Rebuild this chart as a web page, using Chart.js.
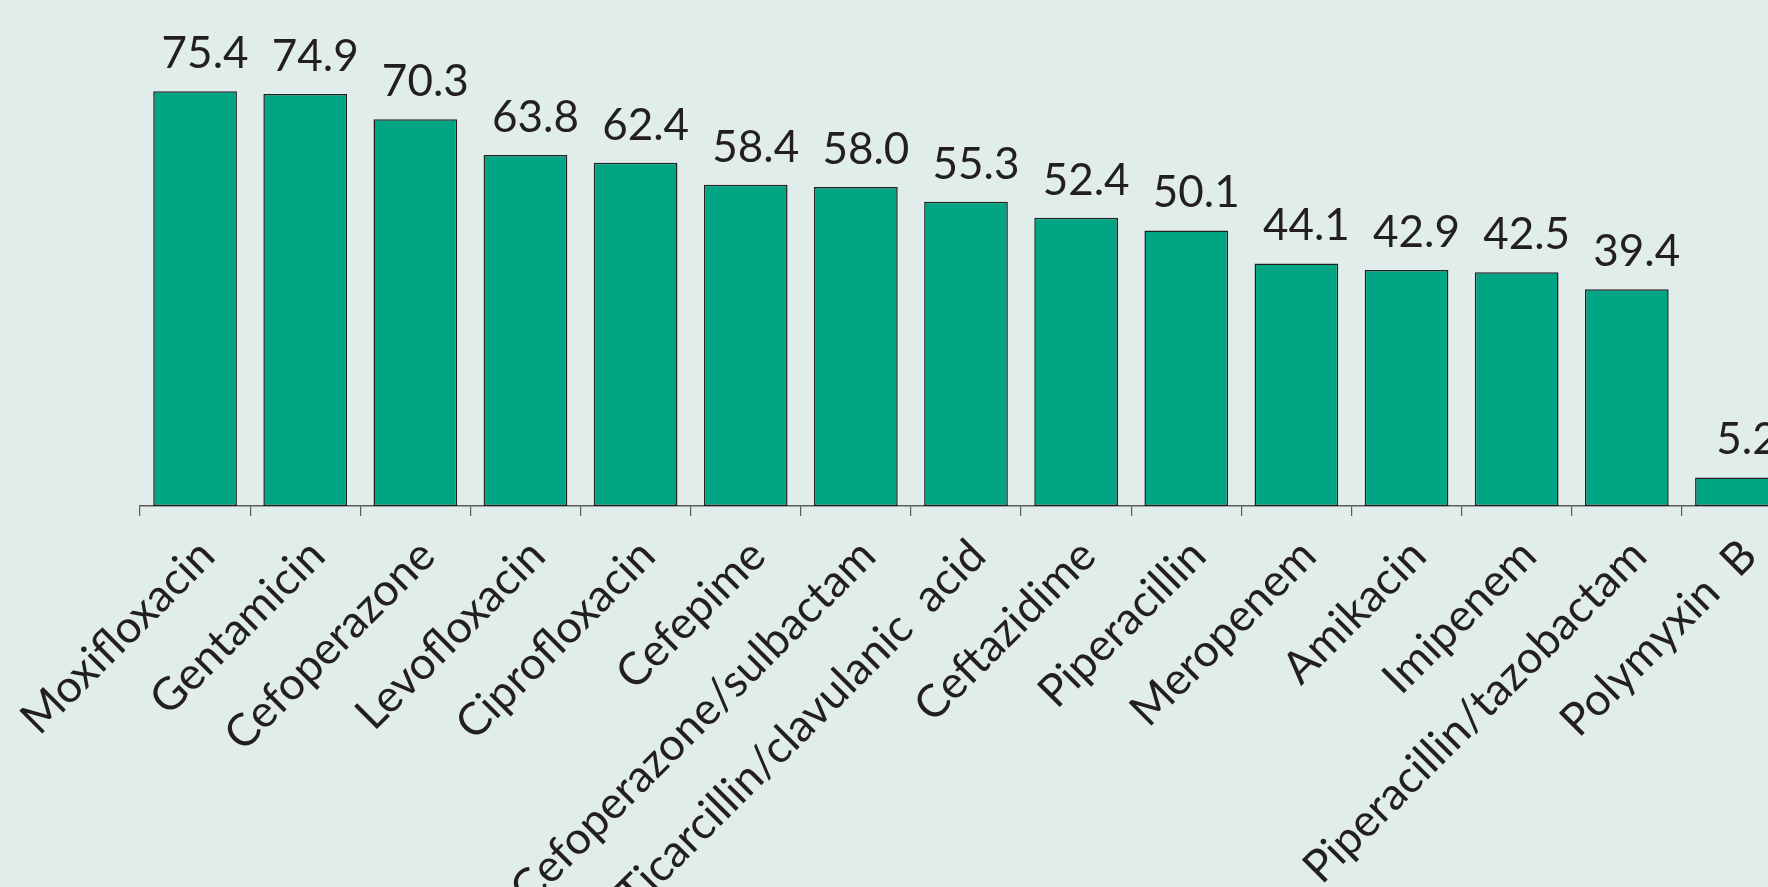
<!DOCTYPE html>
<html>
<head>
<meta charset="utf-8">
<script src="https://cdn.jsdelivr.net/npm/chart.js@4.4.1/dist/chart.umd.min.js"></script>
<style>
  html, body { margin: 0; padding: 0; background: #e1edea; overflow: hidden; width: 1768px; height: 887px; }
  #wrap { position: relative; width: 1792px; height: 887px; }
  canvas { display: block; }
</style>
</head>
<body>
<div id="wrap"><canvas id="chart" width="1792" height="887"></canvas></div>
<script>
// Antibiotic susceptibility (%)
const categories = [
  'Moxifloxacin', 'Gentamicin', 'Cefoperazone', 'Levofloxacin', 'Ciprofloxacin',
  'Cefepime', 'Cefoperazone/sulbactam', 'Ticarcillin/clavulanic  acid', 'Ceftazidime',
  'Piperacillin', 'Meropenem', 'Amikacin', 'Imipenem', 'Piperacillin/tazobactam', 'Polymyxin  B'
];
const susceptibility = [75.4, 74.9, 70.3, 63.8, 62.4, 58.4, 58.0, 55.3, 52.4, 50.1, 44.1, 42.9, 42.5, 39.4, 5.2];
const valueLabels = susceptibility.map(v => v.toFixed(1));

const FONT = 'Lato, "Open Sans", sans-serif';
const INK = '#231f20';

// Value printed above each bar
const barValues = {
  id: 'barValues',
  afterDatasetsDraw(chart) {
    const ctx = chart.ctx;
    const meta = chart.getDatasetMeta(0);
    ctx.save();
    ctx.font = '44px ' + FONT;
    ctx.fillStyle = INK;
    ctx.textAlign = 'center';
    ctx.textBaseline = 'alphabetic';
    meta.data.forEach((bar, i) => {
      ctx.fillText(valueLabels[i], bar.x + 10, bar.y - 23);
    });
    ctx.restore();
  }
};

new Chart(document.getElementById('chart'), {
  type: 'bar',
  data: {
    labels: categories,
    datasets: [{
      data: susceptibility,
      backgroundColor: '#00a583',
      borderColor: INK,
      borderWidth: 1.5,
      borderSkipped: false,
      barPercentage: 0.76,
      categoryPercentage: 1.0
    }]
  },
  options: {
    responsive: false,
    animation: false,
    devicePixelRatio: 1,
    layout: { padding: 0 },
    plugins: { legend: { display: false }, tooltip: { enabled: false } },
    scales: {
      x: {
        offset: true,
        grid: {
          display: true, drawOnChartArea: false, drawTicks: true,
          tickLength: 10, color: '#5b5b5b', lineWidth: 1.2, offset: true
        },
        border: { display: true, color: '#5b5b5b', width: 1.5 },
        ticks: {
          autoSkip: false, minRotation: 45, maxRotation: 45,
          color: INK, padding: 13, labelOffset: 12,
          font: { family: FONT, size: 45 }
        },
        afterFit(scale) {
          scale.height = 381;
          scale.paddingLeft = 140;
          scale.paddingRight = 0;
        }
      },
      y: { display: false, min: 0, max: 92 }
    }
  },
  plugins: [barValues]
});
</script>
</body>
</html>
